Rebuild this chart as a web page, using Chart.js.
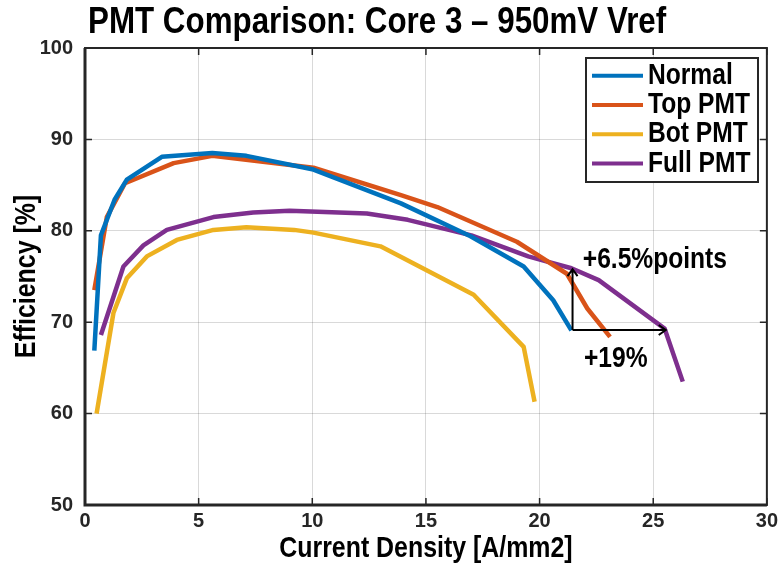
<!DOCTYPE html>
<html>
<head>
<meta charset="utf-8">
<script src="https://cdn.jsdelivr.net/npm/chart.js@4.4.1/dist/chart.umd.min.js"></script>
<style>
html,body{margin:0;padding:0;background:#fff;}
#wrap{width:782px;height:566px;position:relative;}
</style>
</head>
<body>
<div id="wrap"><canvas id="c"></canvas></div>
<script>
// ---- data ----
const seriesNames = ["Normal", "Top PMT", "Bot PMT", "Full PMT"];
const seriesColors = ["#0072BD", "#D95319", "#EDB120", "#7E2F8E"];

const normalX = [0.41, 0.7, 1.3, 1.84, 3.38, 5.6, 7.1, 10.05, 13.9, 16.96, 19.3, 20.6, 21.4];
const normalY = [66.9, 79.5, 83.4, 85.6, 88.1, 88.5, 88.2, 86.7, 83.0, 79.4, 76.1, 72.4, 69.1];

const topX = [0.41, 0.96, 1.76, 3.9, 5.6, 10.05, 13.9, 15.5, 19.0, 21.2, 22.1, 23.1];
const topY = [73.5, 81.5, 85.2, 87.4, 88.2, 86.9, 83.9, 82.6, 78.8, 75.3, 71.5, 68.4];

const botX = [0.51, 1.25, 1.84, 2.72, 4.04, 5.65, 7.1, 9.2, 10.05, 13.0, 17.1, 19.3, 19.78];
const botY = [60.0, 71.0, 74.8, 77.2, 79.0, 80.1, 80.4, 80.1, 79.8, 78.3, 73.0, 67.3, 61.3];

const fullX = [0.7, 1.69, 2.57, 3.6, 5.65, 7.4, 9.0, 12.4, 14.2, 17.0, 19.5, 21.4, 22.6, 25.5, 26.3];
const fullY = [68.6, 76.1, 78.4, 80.1, 81.5, 82.0, 82.2, 81.9, 81.2, 79.5, 77.2, 75.9, 74.6, 69.3, 63.5];

const xTicks = [0, 5, 10, 15, 20, 25, 30];
const yTicks = [50, 60, 70, 80, 90, 100];

const titleText = "PMT Comparison: Core 3 \u2013 950mV Vref";
const xTitle = "Current Density [A/mm2]";
const yTitle = "Efficiency [%]";

// annotation values (data units)
const arrowOrigin = [21.45, 69.15];
const arrowUpTo = 75.8;
const arrowRightTo = 25.55;
const annoLabels = ["+6.5%points", "+19%"];
const annoLabelX = [21.9, 21.95];
const annoLabelY = [76.8, 66.0];

// ---- helpers ----
const FONT = "'Liberation Sans', Arial, sans-serif";
const zip = (xs, ys) => xs.map((x, i) => ({x: x, y: ys[i]}));
const seriesData = [zip(normalX, normalY), zip(topX, topY), zip(botX, botY), zip(fullX, fullY)];

// draw horizontally condensed text (reference uses a narrow bold face)
function condText(ctx, text, x, y, size, align, sx, rot) {
  ctx.save();
  ctx.translate(x, y);
  if (rot) ctx.rotate(rot);
  ctx.scale(sx, 1);
  ctx.font = "bold " + size + "px " + FONT;
  ctx.textAlign = align;
  ctx.textBaseline = 'middle';
  ctx.fillStyle = '#000';
  ctx.fillText(text, 0, 0);
  ctx.restore();
}

const framePlugin = {
  id: 'frame',
  beforeDatasetsDraw(chart) {
    const {ctx, chartArea: a, scales: {x, y}} = chart;
    ctx.save();
    ctx.strokeStyle = '#262626';
    ctx.lineWidth = 1.5;
    const tl = 7;
    ctx.beginPath();
    xTicks.forEach(v => {
      const px = x.getPixelForValue(v);
      ctx.moveTo(px, a.bottom); ctx.lineTo(px, a.bottom - tl);
      ctx.moveTo(px, a.top); ctx.lineTo(px, a.top + tl);
    });
    yTicks.forEach(v => {
      const py = y.getPixelForValue(v);
      ctx.moveTo(a.left, py); ctx.lineTo(a.left + tl, py);
      ctx.moveTo(a.right, py); ctx.lineTo(a.right - tl, py);
    });
    ctx.stroke();
    ctx.restore();
  },
  afterDatasetsDraw(chart) {
    const {ctx, chartArea: a, scales: {x, y}} = chart;
    ctx.save();
    // box
    ctx.strokeStyle = '#262626';
    ctx.lineWidth = 2;
    ctx.strokeRect(a.left, a.top, a.right - a.left, a.bottom - a.top);
    ctx.lineWidth = 3;
    ctx.beginPath();
    ctx.moveTo(a.left, a.top); ctx.lineTo(a.left, a.bottom); ctx.lineTo(a.right, a.bottom);
    ctx.stroke();

    // arrows
    const ox = x.getPixelForValue(arrowOrigin[0]);
    const oy = y.getPixelForValue(arrowOrigin[1]);
    const uy = y.getPixelForValue(arrowUpTo);
    const rx = x.getPixelForValue(arrowRightTo);
    ctx.strokeStyle = '#000';
    ctx.lineWidth = 2;
    ctx.beginPath();
    ctx.moveTo(ox, oy); ctx.lineTo(ox, uy);
    ctx.moveTo(ox - 5, uy + 7); ctx.lineTo(ox, uy); ctx.lineTo(ox + 5, uy + 7);
    ctx.moveTo(ox, oy); ctx.lineTo(rx, oy);
    ctx.moveTo(rx - 7, oy - 5); ctx.lineTo(rx, oy); ctx.lineTo(rx - 7, oy + 5);
    ctx.stroke();

    annoLabels.forEach((t, i) => {
      condText(ctx, t, x.getPixelForValue(annoLabelX[i]), y.getPixelForValue(annoLabelY[i]), 30, 'left', 0.82);
    });

    // legend
    const lx = 586, ly = 58, lw = 172, lh = 124;
    ctx.fillStyle = '#fff';
    ctx.fillRect(lx, ly, lw, lh);
    ctx.strokeStyle = '#262626';
    ctx.lineWidth = 2;
    ctx.strokeRect(lx, ly, lw, lh);
    seriesNames.forEach((n, i) => {
      const cy = 75.8 + i * 29.2;
      ctx.strokeStyle = seriesColors[i];
      ctx.lineWidth = 4;
      ctx.beginPath();
      ctx.moveTo(592, cy); ctx.lineTo(643, cy);
      ctx.stroke();
      condText(ctx, n, 648, cy, 30, 'left', 0.82);
    });
    ctx.restore();
  },
  afterDraw(chart) {
    const {ctx, chartArea: a} = chart;
    // chart title
    ctx.save();
    ctx.translate(88, 33);
    ctx.scale(0.847, 1);
    ctx.fillStyle = '#000';
    ctx.font = "bold 37px " + FONT;
    ctx.textAlign = 'left';
    ctx.textBaseline = 'alphabetic';
    ctx.fillText(titleText, 0, 0);
    ctx.restore();
    // axis titles
    condText(ctx, xTitle, (a.left + a.right) / 2, 549, 30, 'center', 0.83);
    condText(ctx, yTitle, 27, (a.top + a.bottom) / 2, 30, 'center', 0.83, -Math.PI / 2);
  }
};

new Chart(document.getElementById('c'), {
  type: 'line',
  data: {
    datasets: seriesNames.map((n, i) => ({
      label: n,
      data: seriesData[i],
      borderColor: seriesColors[i],
      backgroundColor: seriesColors[i],
      borderWidth: 4.5,
      pointRadius: 0,
      tension: 0,
      fill: false,
      borderJoinStyle: 'round'
    }))
  },
  options: {
    responsive: true,
    maintainAspectRatio: false,
    animation: false,
    layout: {padding: {top: 48, right: 15, bottom: 0, left: 0}},
    plugins: {legend: {display: false}, title: {display: false}, tooltip: {enabled: false}},
    scales: {
      x: {
        type: 'linear', min: 0, max: 30,
        afterFit(s) { s.height = 61; },
        afterBuildTicks(s) { s.ticks = xTicks.map(v => ({value: v})); },
        grid: {color: 'rgba(0,0,0,0.15)', lineWidth: 1, drawTicks: false},
        border: {display: false},
        ticks: {color: '#262626', font: {family: FONT, size: 20, weight: 'bold'}, padding: 4, maxRotation: 0},
        title: {display: false, text: xTitle}
      },
      y: {
        type: 'linear', min: 50, max: 100,
        afterFit(s) { s.width = 85; },
        afterBuildTicks(s) { s.ticks = yTicks.map(v => ({value: v})); },
        grid: {color: 'rgba(0,0,0,0.15)', lineWidth: 1, drawTicks: false},
        border: {display: false},
        ticks: {color: '#262626', font: {family: FONT, size: 20, weight: 'bold'}, padding: 12},
        title: {display: false, text: yTitle}
      }
    }
  },
  plugins: [framePlugin]
});
</script>
</body>
</html>
